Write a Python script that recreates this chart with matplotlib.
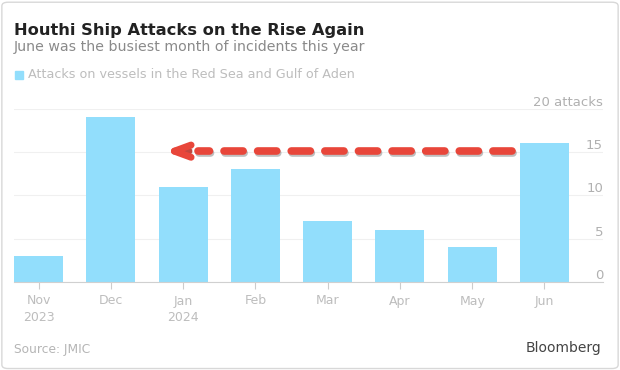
import matplotlib
matplotlib.use("Agg")
import matplotlib.pyplot as plt
import matplotlib.patheffects as pe
from matplotlib.patches import FancyBboxPatch

months = ["Nov\n2023", "Dec", "Jan\n2024", "Feb", "Mar", "Apr", "May", "Jun"]
attacks = [3, 19, 11, 13, 7, 6, 4, 16]
y_ticks = [0, 5, 10, 15, 20]
y_tick_labels = ["0", "5", "10", "15", "20 attacks"]
arrow_level = 15.1

title = "Houthi Ship Attacks on the Rise Again"
subtitle = "June was the busiest month of incidents this year"
legend_label = "Attacks on vessels in the Red Sea and Gulf of Aden"
source = "Source: JMIC"
brand = "Bloomberg"

BAR = "#92DEFC"
RED = "#E8463A"
plt.rcParams["font.family"] = ["DejaVu Sans"]

fig = plt.figure(figsize=(6.2, 3.7), dpi=100)
fig.patch.set_facecolor("white")
fig.patches.append(FancyBboxPatch((0.003, 0.004), 0.994, 0.99, boxstyle="round,pad=0,rounding_size=0.01",
                                  transform=fig.transFigure, fill=False, edgecolor="#d8d8d8", lw=1))

ax = fig.add_axes([14/620, 1-282/370, (603-14)/620, (282-108.7)/370])
x = list(range(len(months)))
ax.bar(x, attacks, width=0.68, color=BAR, zorder=2)
ax.set_xlim(-0.34, 7.81)
ax.set_ylim(0, 20)
ax.set_xticks(x)
ax.set_xticklabels(months, color="#bdbdbd", fontsize=9, linespacing=1.35)
ax.tick_params(axis="x", length=5, color="#cccccc", pad=4)
ax.yaxis.tick_right()
ax.set_yticks(y_ticks)
ax.set_yticklabels(y_tick_labels, color="#b0b0b0", fontsize=9.5)
ax.tick_params(axis="y", length=0, pad=0)
for lbl in ax.get_yticklabels():
    lbl.set_ha("right")
    lbl.set_va("bottom")
ax.grid(axis="y", color="#f0f0f0", lw=0.8, zorder=0)
for s in ["top", "right", "left"]:
    ax.spines[s].set_visible(False)
ax.spines["bottom"].set_color("#d0d0d0")

# dashed arrow from Jun back toward Jan
shadow = [pe.SimpleLineShadow(offset=(1, -1.5), shadow_color="#000000", alpha=0.25), pe.Normal()]
line, = ax.plot([6.55, 2.2], [arrow_level, arrow_level], color=RED, lw=5.5, zorder=5,
                dash_capstyle="round", solid_capstyle="round", linestyle=(0, (2.5, 1.9)))
line.set_path_effects(shadow)
ann = ax.annotate("", xy=(1.74, arrow_level), xytext=(2.08, arrow_level),
                  arrowprops=dict(arrowstyle="->,head_length=0.6,head_width=0.22", color=RED, lw=5,
                                  capstyle="round", joinstyle="round", mutation_scale=20,
                                  shrinkA=0, shrinkB=0), zorder=5)
ann.arrow_patch.set_path_effects([pe.SimplePatchShadow(offset=(1, -1.5), alpha=0.25), pe.Normal()])

fig.text(14/620, 1-30/370, title, fontsize=11.7, fontweight="bold", color="#222222", va="center")
fig.text(14/620, 1-47/370, subtitle, fontsize=10.2, color="#8a8a8a", va="center")
fig.patches.append(plt.Rectangle((15/620, 1-79/370), 8/620, 8/370, transform=fig.transFigure,
                                 color=BAR))
fig.text(28/620, 1-75/370, legend_label, fontsize=9.2, color="#bdbdbd", va="center")
fig.text(14/620, 1-350/370, source, fontsize=8.8, color="#b5b5b5", va="center")
fig.text(601/620, 1-348/370, brand, fontsize=10, color="#444444", va="center", ha="right")

fig.savefig("out.png", dpi=100)
